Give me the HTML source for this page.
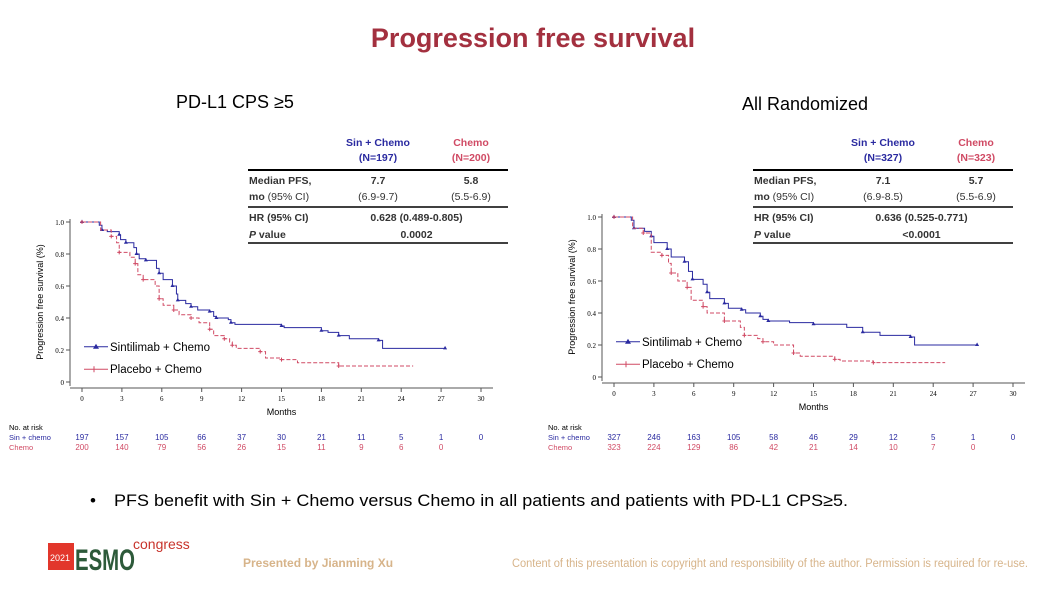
<!DOCTYPE html>
<html><head><meta charset="utf-8"><style>
body{margin:0;width:1054px;height:595px;background:#fff;overflow:hidden;font-family:"Liberation Sans",sans-serif;}
svg{position:absolute;left:0;top:0}
</style></head><body>
<svg id="s" width="1054" height="595" viewBox="0 0 1054 595" font-family="Liberation Sans, sans-serif">
<text x="533" y="47" text-anchor="middle" font-size="27" font-weight="bold" fill="#a3303f">Progression free survival</text>
<text x="176" y="108" font-size="18" fill="#000">PD-L1 CPS ≥5</text>
<text x="742" y="110" font-size="18" fill="#000">All Randomized</text>
<text x="90" y="506" font-size="17" fill="#000">•</text>
<text x="114" y="506" font-size="17" fill="#000" textLength="734" lengthAdjust="spacingAndGlyphs">PFS benefit with Sin + Chemo versus Chemo in all patients and patients with PD-L1 CPS≥5.</text>
<g>
<rect x="48" y="543" width="26" height="27" fill="#e2362b"/>
<text x="50" y="561" font-size="9" fill="#fff">2021</text>
<text x="75" y="570" font-size="30" font-weight="bold" fill="#2d5a3a" textLength="60" lengthAdjust="spacingAndGlyphs">ESMO</text>
<text x="133" y="549" font-size="14" fill="#c8332b">congress</text>
</g>
<text x="243" y="567" font-size="12" font-weight="bold" fill="#d7b48a">Presented by Jianming Xu</text>
<text x="1028" y="567" text-anchor="end" font-size="11.5" fill="#d7b48a" textLength="516" lengthAdjust="spacingAndGlyphs">Content of this presentation is copyright and responsibility of the author. Permission is required for re-use.</text>
</svg>
<script>
const months=[0,3,6,9,12,15,18,21,24,27,30];
const yTicks=[0,0.2,0.4,0.6,0.8,1.0];
const leftBlue=[[0,1],[1.3,0.98],[1.5,0.95],[1.9,0.94],[2.8,0.92],[2.9,0.89],[3.3,0.87],[3.9,0.84],[4.1,0.8],[4.3,0.77],[4.8,0.76],[5.6,0.71],[5.8,0.68],[6.1,0.64],[6.8,0.6],[7.1,0.55],[7.2,0.51],[7.8,0.49],[8.2,0.47],[8.7,0.45],[9.6,0.44],[9.9,0.41],[10.1,0.4],[11,0.39],[11.2,0.37],[11.5,0.36],[15,0.35],[15.2,0.34],[18,0.32],[18.5,0.31],[19.3,0.29],[20.1,0.27],[22.3,0.26],[22.6,0.21],[27.3,0.21]];
const leftRed=[[0,1],[1.4,0.95],[2.2,0.91],[2.6,0.87],[2.8,0.81],[3.6,0.78],[4,0.74],[4.2,0.67],[4.6,0.64],[5.5,0.6],[5.8,0.52],[6.1,0.48],[6.9,0.45],[7.3,0.42],[8.2,0.40],[8.8,0.37],[9.6,0.33],[9.9,0.29],[10.7,0.27],[11.1,0.25],[11.3,0.23],[11.6,0.21],[13.4,0.19],[13.8,0.15],[15,0.14],[16.2,0.12],[19.3,0.10],[24.9,0.10]];
const rightBlue=[[0,1],[1.3,0.98],[1.5,0.93],[2.3,0.91],[2.8,0.88],[3,0.84],[4,0.8],[4.3,0.75],[5.3,0.72],[5.6,0.66],[5.9,0.61],[6.7,0.58],[7,0.53],[7.2,0.49],[8.3,0.46],[8.6,0.43],[9.6,0.42],[9.9,0.40],[11,0.38],[11.2,0.36],[11.6,0.35],[13.2,0.34],[15,0.33],[17.5,0.31],[18.7,0.28],[20,0.26],[22.3,0.25],[22.6,0.2],[27.3,0.2]];
const rightRed=[[0,1],[1.4,0.93],[2.2,0.9],[2.8,0.78],[3.6,0.76],[4.1,0.71],[4.3,0.65],[4.8,0.6],[5.5,0.56],[5.8,0.48],[6.7,0.44],[7,0.4],[8.3,0.35],[9.5,0.31],[9.8,0.26],[10.8,0.24],[11.2,0.22],[12,0.20],[13.5,0.15],[14,0.13],[16.6,0.11],[17,0.10],[19.5,0.09],[24.9,0.09]];
const leftRiskBlue=[197,157,105,66,37,30,21,11,5,1,0];
const leftRiskRed=[200,140,79,56,26,15,11,9,6,0];
const rightRiskBlue=[327,246,163,105,58,46,29,12,5,1,0];
const rightRiskRed=[323,224,129,86,42,21,14,10,7,0];
const leftTable=["(N=197)","(N=200)","7.7","5.8","(6.9-9.7)","(5.5-6.9)","0.628 (0.489-0.805)","0.0002"];
const rightTable=["(N=327)","(N=323)","7.1","5.7","(6.9-8.5)","(5.5-6.9)","0.636 (0.525-0.771)","<0.0001"];
const NS="http://www.w3.org/2000/svg",S=document.getElementById('s');
const BLUE="#2a2aa0",RED="#d04a64";
function mk(t,a,p,txt){const e=document.createElementNS(NS,t);for(const k in a)e.setAttribute(k,a[k]);if(txt!==undefined)e.textContent=txt;(p||S).appendChild(e);return e;}
function panel(name,c,blue,red,rb,rr,tb){
 const g=mk('g',{});
 
 
 const X=m=>c.x0+(c.x30-c.x0)*m/30, Y=v=>c.y0+(c.y1-c.y0)*v;
 mk('line',{x1:c.ax,y1:c.y1-3,x2:c.ax,y2:c.y0+4,stroke:'#555'},g);
 mk('line',{x1:c.ax,y1:c.bx,x2:c.x30+12,y2:c.bx,stroke:'#555'},g);
 yTicks.forEach(v=>{mk('line',{x1:c.ax-4,y1:Y(v),x2:c.ax,y2:Y(v),stroke:'#555'},g);
  const t=mk('text',{x:c.ax-6,y:Y(v)+3,'text-anchor':'end','font-size':7,'font-family':'Liberation Serif, serif'},g,v===0?'0':v.toFixed(1));
  });
 months.forEach(m=>{mk('line',{x1:X(m),y1:c.bx,x2:X(m),y2:c.bx+4,stroke:'#555'},g);
  const t=mk('text',{x:X(m),y:c.bx+13,'text-anchor':'middle','font-size':7,'font-family':'Liberation Serif, serif'},g,m);
  });
 const xt=mk('text',{x:X(15),y:c.bx+27,'text-anchor':'middle','font-size':9},g,'Months');
 
 const yt=mk('text',{x:0,y:0,'text-anchor':'middle','font-size':9,transform:`translate(${c.ax-27},${Y(0.5)}) rotate(-90)`},g,'Progression free survival (%)');
 
 [[blue,BLUE,''],[red,RED,'4,2']].forEach(([d,col,da],i)=>{
  let p=`M${X(d[0][0])},${Y(d[0][1])}`;
  for(let k=1;k<d.length;k++)p+=`H${X(d[k][0])}V${Y(d[k][1])}`;
  const l=mk('path',{d:p,fill:'none',stroke:col,'stroke-width':1,'stroke-dasharray':da},g);
  
  
  d.forEach((pt,k)=>{if(k%2)return;const x=X(pt[0]),y=Y(pt[1]);
   const mkr=i?mk('path',{d:`M${x-2},${y}H${x+2}M${x},${y-2}V${y+2}`,stroke:col,'stroke-width':1},g):mk('path',{d:`M${x},${y-2.5}L${x+2},${y+1}L${x-2},${y+1}Z`,fill:col},g);
   });
 });
 [[BLUE,'Sintilimab + Chemo',Y(0.22)],[RED,'Placebo + Chemo',Y(0.08)]].forEach(([col,lab,y],i)=>{
  const lg=mk('g',{},g);
  
  mk('line',{x1:c.ax+14,y1:y,x2:c.ax+38,y2:y,stroke:col},lg);
  if(i)mk('path',{d:`M${c.ax+24},${y-3}V${y+3}`,stroke:col},lg);else mk('path',{d:`M${c.ax+26},${y-3}L${c.ax+29},${y+2}L${c.ax+23},${y+2}Z`,fill:col},lg);
  mk('text',{x:c.ax+40,y:y+4,'font-size':11.5},lg,lab);
 });
 const rl=c.lx;
 mk('text',{x:rl,y:c.ry-10,'font-size':7.5},g,'No. at risk');
 mk('text',{x:rl,y:c.ry,'font-size':7.5,fill:BLUE},g,'Sin + chemo');
 mk('text',{x:rl,y:c.ry+10,'font-size':7.5,fill:RED},g,'Chemo');
 rb.forEach((v,i)=>{const t=mk('text',{x:X(months[i]),y:c.ry,'text-anchor':'middle','font-size':8,fill:BLUE},g,v);});
 rr.forEach((v,i)=>{const t=mk('text',{x:X(months[i]),y:c.ry+10,'text-anchor':'middle','font-size':8,fill:RED},g,v);});
 const tg=mk('g',{'font-size':10.5},g);
 
 const L=c.tx,R=c.tx+260,T=c.ty,c1=L+130,c2=L+223;
 mk('text',{x:c1,y:T+11,'text-anchor':'middle','font-weight':'bold',fill:BLUE},tg,'Sin + Chemo');
 mk('text',{x:c2,y:T+11,'text-anchor':'middle','font-weight':'bold',fill:RED},tg,'Chemo');
 mk('text',{x:c1,y:T+26,'text-anchor':'middle','font-weight':'bold',fill:BLUE},tg,tb[0]);
 mk('text',{x:c2,y:T+26,'text-anchor':'middle','font-weight':'bold',fill:RED},tg,tb[1]);
 [[T+35,2],[T+72,1.5],[T+108,1.5]].forEach(([y,w])=>mk('line',{x1:L,y1:y,x2:R,y2:y,stroke:'#000','stroke-width':w},tg));
 mk('text',{x:L+1,y:T+49,'font-weight':'bold',fill:'#333'},tg,'Median PFS,');
 const t2=mk('text',{x:L+1,y:T+65,fill:'#333'},tg);mk('tspan',{'font-weight':'bold'},t2,'mo');mk('tspan',{},t2,' (95% CI)');
 mk('text',{x:c1,y:T+49,'text-anchor':'middle','font-weight':'bold',fill:'#333'},tg,tb[2]);
 mk('text',{x:c2,y:T+49,'text-anchor':'middle','font-weight':'bold',fill:'#333'},tg,tb[3]);
 mk('text',{x:c1,y:T+65,'text-anchor':'middle',fill:'#333'},tg,tb[4]);
 mk('text',{x:c2,y:T+65,'text-anchor':'middle',fill:'#333'},tg,tb[5]);
 mk('text',{x:L+1,y:T+86,'font-weight':'bold',fill:'#333'},tg,'HR (95% CI)');
 const t3=mk('text',{x:L+1,y:T+103,'font-weight':'bold',fill:'#333'},tg);mk('tspan',{'font-style':'italic'},t3,'P');mk('tspan',{},t3,' value');
 mk('text',{x:(c1+c2)/2-8,y:T+86,'text-anchor':'middle','font-weight':'bold',fill:'#333'},tg,tb[6]);
 mk('text',{x:(c1+c2)/2-8,y:T+103,'text-anchor':'middle','font-weight':'bold',fill:'#333'},tg,tb[7]);
}
panel('left-km-chart',{x0:82,x30:481,y0:382,y1:222,ax:70,bx:388,lx:9,ry:440,tx:248,ty:135},leftBlue,leftRed,leftRiskBlue,leftRiskRed,leftTable);
panel('right-km-chart',{x0:614,x30:1013,y0:377,y1:217,ax:602,bx:383,lx:548,ry:440,tx:753,ty:135},rightBlue,rightRed,rightRiskBlue,rightRiskRed,rightTable);
</script>
</body></html>
